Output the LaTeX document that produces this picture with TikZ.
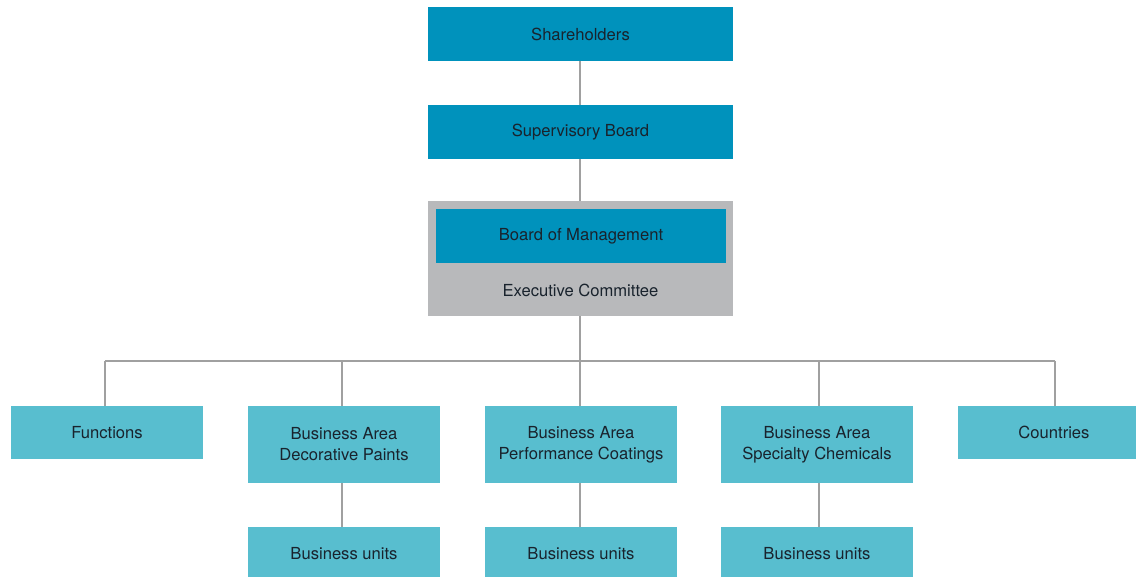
\documentclass[tikz,border=0pt]{standalone}
\usepackage{fontspec}
\setmainfont{TeX Gyre Heros}
\definecolor{darkblue}{RGB}{0,146,188}
\definecolor{teal}{RGB}{88,190,207}
\definecolor{boxgrey}{RGB}{184,185,187}
\definecolor{linegrey}{RGB}{160,160,160}
\definecolor{txt}{RGB}{25,35,45}
\begin{document}
\begin{tikzpicture}[x=1pt,y=-1pt,
  every node/.style={inner sep=0pt, outer sep=0pt, text=txt, font=\fontsize{16.6}{21}\selectfont, align=center},
  topbox/.style={fill=darkblue, minimum width=305pt, minimum height=54pt},
  areabox/.style={fill=teal, minimum width=192pt},
  conn/.style={draw=linegrey, line width=1.1pt}]
\clip (0,0) rectangle (1136,577);
\fill[white] (0,0) rectangle (1136,577);
\node[topbox] (sh) at (580.5,34) {Shareholders};
\node[topbox] (sb) at (580.5,132) {Supervisory Board};
\node[fill=boxgrey, minimum width=305pt, minimum height=115pt] (ex) at (580.5,258.5) {};
\node[fill=darkblue, minimum width=290pt, minimum height=54pt] (bm) at (581,236) {Board of Management};
\node (ec) at (580.5,290) {Executive Committee};
\node[areabox, minimum height=53pt] (fn) at (107,432.5) {Functions};
\node[areabox, minimum height=77pt] (dp) at (344,444.5) {Business Area\\Decorative Paints};
\node[areabox, minimum height=77pt] (pc) at (581,444.5) {Business Area\\Performance Coatings};
\node[areabox, minimum height=77pt] (sc) at (817,444.5) {Business Area\\Specialty Chemicals};
\node[areabox, minimum height=53pt] (co) at (1054,432.5) {Countries};
\node[areabox, minimum height=54pt] (u1) at (344,554) {Business units};
\node[areabox, minimum height=54pt] (u2) at (581,554) {Business units};
\node[areabox, minimum height=54pt] (u3) at (817,554) {Business units};
\coordinate (bus) at (580,361);
\coordinate (j1) at (105,361);
\coordinate (j2) at (342,361);
\coordinate (j3) at (580,361);
\coordinate (j4) at (819,361);
\coordinate (j5) at (1055,361);
\draw[conn] (sh.south -| bus) -- (sb.north -| bus);
\draw[conn] (sb.south -| bus) -- (ex.north -| bus);
\draw[conn] (ex.south -| bus) -- (bus);
\draw[conn] (j1) -- (j5);
\draw[conn] (j1) -- (j1 |- fn.north);
\draw[conn] (j2) -- (j2 |- dp.north);
\draw[conn] (j3) -- (j3 |- pc.north);
\draw[conn] (j4) -- (j4 |- sc.north);
\draw[conn] (j5) -- (j5 |- co.north);
\draw[conn] (dp.south -| j2) -- (u1.north -| j2);
\draw[conn] (pc.south -| j3) -- (u2.north -| j3);
\draw[conn] (sc.south -| j4) -- (u3.north -| j4);
\end{tikzpicture}
\end{document}
